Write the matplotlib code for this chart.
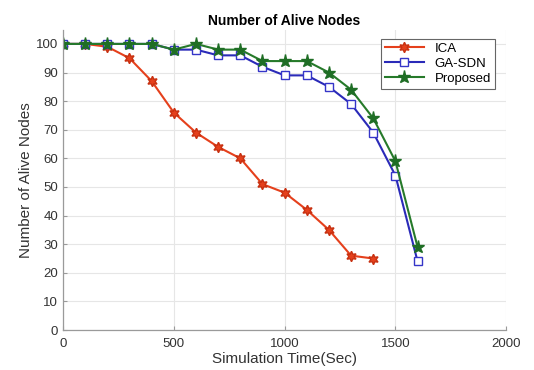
import matplotlib.pyplot as plt
import numpy as np

# simulation time steps (s)
time_ica = np.arange(0, 1500, 100)
time_sdn = np.arange(0, 1700, 100)

alive_ica = [100, 100, 99, 95, 87, 76, 69, 64, 60, 51, 48, 42, 35, 26, 25]
alive_gasdn = [100, 100, 100, 100, 100, 98, 98, 96, 96, 92, 89, 89, 85, 79, 69, 54, 24]
alive_proposed = [100, 100, 100, 100, 100, 98, 100, 98, 98, 94, 94, 94, 90, 84, 74, 59, 29]

xticks = [0, 500, 1000, 1500, 2000]
yticks = list(range(0, 101, 10))

plt.rcParams["font.family"] = ["Liberation Sans", "DejaVu Sans"]

fig = plt.figure(figsize=(5.34, 3.70), dpi=100)
ax = fig.add_axes([0.118, 0.108, 0.830, 0.812])

ax.plot(time_ica, alive_ica, color="#e5401c", lw=1.5,
        marker=(6, 1, 0), ms=7.5, mfc="#e5401c", mec="#c83010", label="ICA")
ax.plot(time_sdn, alive_gasdn, color="#2a2ab8", lw=1.5,
        marker="s", ms=5.5, mfc="white", mec="#3535c8", mew=1.0, label="GA-SDN")
ax.plot(time_sdn, alive_proposed, color="#267a2a", lw=1.5,
        marker="*", ms=9.5, mfc="#1f6e25", mec="#1f6e25", label="Proposed")

ax.set_xlim(0, 2000)
ax.set_ylim(0, 105)
ax.set_xticks(xticks)
ax.set_yticks(yticks)
ax.grid(True, color="#e6e6e6", lw=0.8)
ax.set_axisbelow(True)

for side in ("top", "right"):
    ax.spines[side].set_visible(False)
for side in ("left", "bottom"):
    ax.spines[side].set_color("#9a9a9a")
    ax.spines[side].set_linewidth(0.9)

ax.tick_params(direction="in", length=3, color="#9a9a9a", labelsize=9.5,
               labelcolor="#333333")
ax.tick_params(axis="x", pad=6)

ax.set_title("Number of Alive Nodes", fontsize=10, fontweight="bold", pad=3)
ax.set_xlabel("Simulation Time(Sec)", fontsize=11, color="#333333", labelpad=1)
ax.set_ylabel("Number of Alive Nodes", fontsize=11, color="#333333", labelpad=2)

leg = ax.legend(loc="upper right", bbox_to_anchor=(0.975, 0.97), borderaxespad=0,
                fontsize=9.5, handlelength=3.0, borderpad=0.3, labelspacing=0.2,
                fancybox=False, framealpha=1)
leg.get_frame().set_edgecolor("#666666")
leg.get_frame().set_linewidth(0.8)

fig.savefig("out.png", dpi=100)
